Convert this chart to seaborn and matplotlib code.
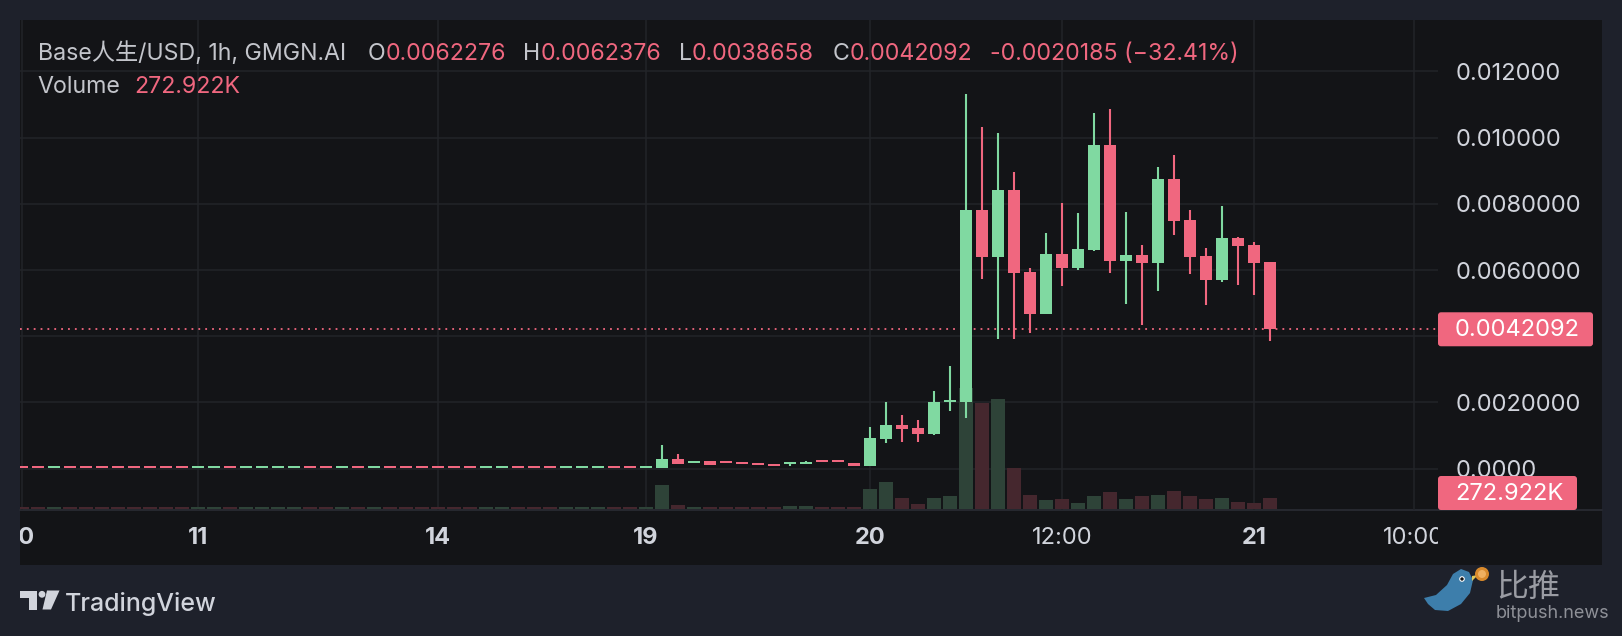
import numpy as np
import pandas as pd
import matplotlib
matplotlib.use("Agg")
import matplotlib.pyplot as plt
import seaborn as sns
from matplotlib.patches import Rectangle, FancyBboxPatch, Polygon, Circle
from matplotlib.transforms import Bbox, TransformedBbox

# ---------------------------------------------------------------------------
# hourly bars, oldest first (USD); first 40 are the flat pre-launch bars
# ---------------------------------------------------------------------------
opens = [
    0.000022, 0.000022, 0.000020, 0.000022, 0.000022, 0.000022, 0.000022, 0.000022, 0.000022, 0.000022,
    0.000022, 0.000020, 0.000020, 0.000022, 0.000020, 0.000020, 0.000020, 0.000020, 0.000022, 0.000022,
    0.000020, 0.000022, 0.000020, 0.000022, 0.000022, 0.000022, 0.000022, 0.000022, 0.000022, 0.000020,
    0.000020, 0.000022, 0.000022, 0.000022, 0.000020, 0.000020, 0.000020, 0.000022, 0.000022, 0.000020,
    0.00001, 0.00029, 0.00018, 0.00023, 0.00018, 0.00015, 0.00012, 0.00009, 0.00014, 0.00015,
    0.00021, 0.00020, 0.00018, 0.00008, 0.00089, 0.00132, 0.00122, 0.00105, 0.00201, 0.00201,
    0.00781, 0.00639, 0.00842, 0.00594, 0.00467, 0.00648, 0.00606, 0.00660, 0.00977, 0.00627,
    0.00645, 0.00621, 0.00875, 0.00751, 0.00642, 0.00570, 0.00696, 0.00675, 0.0062276,
]
closes = [
    0.000020, 0.000020, 0.000022, 0.000020, 0.000020, 0.000020, 0.000020, 0.000020, 0.000020, 0.000020,
    0.000020, 0.000022, 0.000022, 0.000020, 0.000022, 0.000022, 0.000022, 0.000022, 0.000020, 0.000020,
    0.000022, 0.000020, 0.000022, 0.000020, 0.000020, 0.000020, 0.000020, 0.000020, 0.000020, 0.000022,
    0.000022, 0.000020, 0.000020, 0.000020, 0.000022, 0.000022, 0.000022, 0.000020, 0.000020, 0.000022,
    0.00029, 0.00015, 0.00020, 0.00011, 0.00016, 0.00013, 0.00010, 0.00007, 0.00017, 0.00020,
    0.00019, 0.00019, 0.00008, 0.00092, 0.00132, 0.00120, 0.00105, 0.00201, 0.00207, 0.00781,
    0.00639, 0.00842, 0.00591, 0.00467, 0.00648, 0.00606, 0.00663, 0.00977, 0.00627, 0.00645,
    0.00621, 0.00875, 0.00748, 0.00639, 0.00570, 0.00696, 0.00672, 0.00621, 0.0042092,
]
highs = [
    0.000022, 0.000022, 0.000022, 0.000022, 0.000022, 0.000022, 0.000022, 0.000022, 0.000022, 0.000022,
    0.000022, 0.000022, 0.000022, 0.000022, 0.000022, 0.000022, 0.000022, 0.000022, 0.000022, 0.000022,
    0.000022, 0.000022, 0.000022, 0.000022, 0.000022, 0.000022, 0.000022, 0.000022, 0.000022, 0.000022,
    0.000022, 0.000022, 0.000022, 0.000022, 0.000022, 0.000022, 0.000022, 0.000022, 0.000022, 0.000022,
    0.00071, 0.00044, 0.00020, 0.00023, 0.00018, 0.00015, 0.00012, 0.00009, 0.00017, 0.00023,
    0.00021, 0.00020, 0.00018, 0.00126, 0.00201, 0.00162, 0.00147, 0.00234, 0.00310, 0.01132,
    0.01032, 0.01014, 0.00896, 0.00606, 0.00712, 0.00802, 0.00772, 0.01074, 0.01086, 0.00775,
    0.00675, 0.00911, 0.00947, 0.00781, 0.00666, 0.00793, 0.00699, 0.00684, 0.0062376,
]
lows = [
    0.000020, 0.000020, 0.000020, 0.000020, 0.000020, 0.000020, 0.000020, 0.000020, 0.000020, 0.000020,
    0.000020, 0.000020, 0.000020, 0.000020, 0.000020, 0.000020, 0.000020, 0.000020, 0.000020, 0.000020,
    0.000020, 0.000020, 0.000020, 0.000020, 0.000020, 0.000020, 0.000020, 0.000020, 0.000020, 0.000020,
    0.000020, 0.000020, 0.000020, 0.000020, 0.000020, 0.000020, 0.000020, 0.000020, 0.000020, 0.000020,
    0.00001, 0.00015, 0.00018, 0.00011, 0.00016, 0.00013, 0.00010, 0.00007, 0.00008, 0.00015,
    0.00019, 0.00019, 0.00008, 0.00008, 0.00077, 0.00080, 0.00080, 0.00101, 0.00174, 0.00153,
    0.00573, 0.00392, 0.00392, 0.00409, 0.00467, 0.00551, 0.00600, 0.00657, 0.00591, 0.00497,
    0.00434, 0.00536, 0.00706, 0.00588, 0.00494, 0.00564, 0.00555, 0.00524, 0.0038658,
]
# volume in thousands
volumes_k = [
    45, 45, 45, 45, 45, 45, 45, 45, 45, 45,
    45, 45, 45, 45, 45, 45, 45, 45, 45, 45,
    45, 45, 45, 45, 45, 45, 45, 45, 45, 45,
    45, 45, 45, 45, 45, 45, 45, 45, 45, 45,
    595, 99, 50, 50, 50, 50, 50, 50, 74, 74,
    50, 50, 50, 496, 670, 273, 124, 273, 322, 3000,
    2630, 2728, 1017, 347, 223, 248, 149, 322, 422, 248,
    322, 347, 446, 322, 248, 273, 174, 149, 272.922,
]

tick_bars = [0, 11, 26, 39, 53, 65, 77, 87]
tick_labels = ["10", "11", "14", "19", "20", "12:00", "21", "10:00"]
tick_bold = [True, True, True, True, True, False, True, False]

price_grid = [0.0, 0.002, 0.004, 0.006, 0.008, 0.010, 0.012]
price_ticks = [0.0, 0.002, 0.006, 0.008, 0.010, 0.012]
price_tick_labels = ["0.0000", "0.0020000", "0.0060000", "0.0080000", "0.010000", "0.012000"]

header_groups = [
    [("Base人生/USD, 1h, GMGN.AI", "gray")],
    [("O", "gray"), ("0.0062276", "pink")],
    [("H", "gray"), ("0.0062376", "pink")],
    [("L", "gray"), ("0.0038658", "pink")],
    [("C", "gray"), ("0.0042092", "pink")],
    [("-0.0020185 (\u221232.41%)", "pink")],
]
volume_groups = [
    [("Volume", "gray")],
    [("272.922K", "pink")],
]
last_price_label = "0.0042092"
last_volume_label = "272.922K"

# ---------------------------------------------------------------------------
W, H, DPI = 1622, 636, 100
BG = "#1e212b"
PANEL = "#131417"
GRID = "#222428"
AXLINE = "#2a2d35"
TXT = "#d1d4dc"
GRAY = "#c3c5cb"
UP = "#80d9a1"
DOWN = "#f0677f"
VOL_UP = "#2e4338"
VOL_DOWN = "#45272e"
COLORS = {"gray": GRAY, "pink": DOWN}
FONT = ["Inter", "Noto Sans CJK SC", "DejaVu Sans"]

sns.set_theme(style="dark")
plt.rcParams["font.family"] = FONT
plt.rcParams["axes.unicode_minus"] = False

df = pd.DataFrame({"open": opens, "high": highs, "low": lows,
                   "close": closes, "volume": volumes_k})
df["bar"] = np.arange(len(df))
df["dir"] = np.where(df["close"] >= df["open"], "up", "down")
cols = df["dir"].map({"up": UP, "down": DOWN}).tolist()

fig = plt.figure(figsize=(W / DPI, H / DPI), dpi=DPI, facecolor=BG)

# background panel
bg = fig.add_axes([0, 0, 1, 1], zorder=0)
bg.set_xlim(0, W)
bg.set_ylim(H, 0)
bg.axis("off")
bg.add_patch(Rectangle((20, 20), 1582, 545, facecolor=PANEL, edgecolor="none"))
bg.plot([20, 1602], [510, 510], color=AXLINE, lw=1.2)

# price + volume panes
ax = fig.add_axes([20 / W, 1 - 510 / H, 1418 / W, 490 / H])
axv = ax.twinx()
axv.set_zorder(1)
ax.set_zorder(2)
ax.patch.set_visible(False)
axv.patch.set_visible(False)

sns.barplot(data=df, x="bar", y="volume", hue="dir",
            palette={"up": VOL_UP, "down": VOL_DOWN}, native_scale=True,
            dodge=False, width=0.875, saturation=1, errorbar=None,
            legend=False, linewidth=0, ax=axv)
vol_per_px = 272.922 / 11
axv.set_ylim(-1 * vol_per_px, 489 * vol_per_px)

# grid lines live in the volume pane so bars sit on top of them
axv.hlines(price_grid, 0, 1, transform=ax.get_yaxis_transform(),
           colors=GRID, lw=1.1, zorder=0)
axv.vlines(tick_bars, 0, 1, transform=axv.get_xaxis_transform(),
           colors=GRID, lw=1.1, zorder=0)

min_body = 0.00006
bottoms = np.minimum(df["open"], df["close"])
heights = np.maximum((df["close"] - df["open"]).abs(), min_body)
ax.vlines(df["bar"], df["low"], df["high"], colors=cols, lw=1.5, zorder=2)
ax.bar(df["bar"], heights, bottom=bottoms, width=0.75, color=cols,
       linewidth=0, zorder=3)
ax.axhline(closes[-1], color=DOWN, lw=1.3, ls=(0, (1, 2.8)), zorder=1)

ax.set_xlim(-0.125, 88.5)
ax.set_ylim(-0.0012508, 0.013553)
axv.set_xlim(-0.125, 88.5)

for a in (ax, axv):
    for s in a.spines.values():
        s.set_visible(False)
    a.grid(False)
axv.set_yticks([])
axv.set_ylabel("")
axv.set_xlabel("")
ax.set_xlabel("")
ax.set_ylabel("")

ax.set_xticks(tick_bars, tick_labels)
ax.tick_params(axis="x", length=0, pad=12, labelsize=17, labelcolor=TXT)
ax.yaxis.tick_right()
ax.set_yticks(price_ticks, price_tick_labels)
ax.tick_params(axis="y", length=0, pad=12.5, labelsize=17, labelcolor=TXT)
axv.tick_params(axis="both", length=0, labelbottom=False, labelright=False)

clip = TransformedBbox(Bbox.from_extents(20 / W, 0, 1438 / W, 1), fig.transFigure)
for lab, bold in zip(ax.get_xticklabels(), tick_bold):
    lab.set_fontweight("bold" if bold else "normal")
    lab.set_clip_box(clip)
    lab.set_clip_on(True)

# overlay in pixel coordinates (y down) for legend text, tags and logos
ov = fig.add_axes([0, 0, 1, 1], zorder=3)
ov.set_xlim(0, W)
ov.set_ylim(H, 0)
ov.axis("off")
ov.patch.set_visible(False)
renderer = fig.canvas.get_renderer()


def write_run(x, y, parts, size):
    for s, c in parts:
        t = ov.text(x, y, s, color=COLORS[c], fontsize=size, va="baseline",
                    ha="left", family=FONT)
        x = t.get_window_extent(renderer).x1
    return x


for x0, grp in zip([37.7, 367.7, 523, 679, 833, 990], header_groups):
    write_run(x0, 60, grp, 16.7)
for x0, grp in zip([37.7, 134], volume_groups):
    write_run(x0, 93, grp, 16.7)

# last price tag
yc = H - ax.transData.transform((0, closes[-1]))[1]
ov.add_patch(FancyBboxPatch((1438, yc - 17), 155, 34,
                            boxstyle="round,pad=0,rounding_size=3",
                            fc=DOWN, ec="none"))
ov.text(1455, yc + 1, last_price_label, color="white", fontsize=17,
        va="center", ha="left")

# last volume tag (clamped to the pane bottom)
yv = H - axv.transData.transform((0, volumes_k[-1]))[1]
yv = min(yv, 510 - 17)
ov.add_patch(FancyBboxPatch((1438, yv - 17), 139, 34,
                            boxstyle="round,pad=0,rounding_size=3",
                            fc=DOWN, ec="none"))
ov.text(1455, yv + 1, last_volume_label, color="white", fontsize=17,
        va="center", ha="left")

# TradingView logo
LOGO = "#d1d4dc"
ov.add_patch(Polygon([(20, 590.5), (36.5, 590.5), (36.5, 609.5), (28.5, 609.5),
                      (28.5, 597.5), (20, 597.5)], closed=True, fc=LOGO, ec="none"))
ov.add_patch(Circle((42, 594.3), 3.4, fc=LOGO, ec="none"))
ov.add_patch(Polygon([(47, 590.5), (59.5, 590.5), (51, 609.5), (42.5, 609.5)],
                     closed=True, fc=LOGO, ec="none"))
ov.text(65, 611, "TradingView", color=LOGO, fontsize=18, va="baseline",
        ha="left", fontweight="medium")

# bitpush watermark
BIRD = "#3d7eab"
ov.add_patch(Polygon([(1424, 598), (1436, 595), (1447, 585), (1453, 574),
                      (1461, 569), (1469, 572), (1473, 580), (1470, 593),
                      (1461, 604), (1448, 611), (1435, 610), (1428, 604)],
                     closed=True, fc=BIRD, ec="none"))
ov.add_patch(Circle((1462, 579), 2.8, fc="white", ec="none"))
ov.add_patch(Circle((1462, 579), 1.7, fc="#111111", ec="none"))
ov.add_patch(Polygon([(1472, 576), (1478, 575), (1472, 581)], closed=True,
                     fc="#e0c85a", ec="none"))
ov.add_patch(Circle((1482, 574), 7, fc="#d98a2c", ec="none"))
ov.add_patch(Circle((1482, 574), 4, fc="#f0b060", ec="none"))
ov.text(1496, 603, "比推", color="#9a9ca3", fontsize=23, va="bottom",
        ha="left", family=["Noto Sans CJK SC", "DejaVu Sans"])
ov.text(1496, 605, "bitpush.news", color="#8e9097", fontsize=13,
        va="top", ha="left")

fig.savefig("out.png", dpi=DPI, facecolor=BG)
